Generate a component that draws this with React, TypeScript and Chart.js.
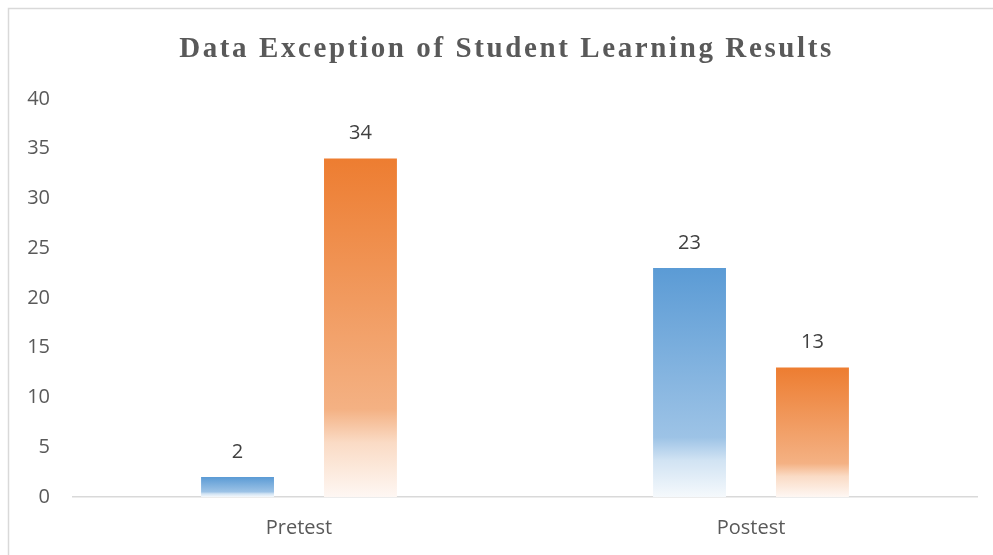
import React, { useEffect, useRef } from "react";
import { Chart, registerables } from "chart.js";

Chart.register(...registerables);

const categories = ["Pretest", "Postest"];
const seriesA = [2, 23];
const seriesB = [34, 13];
const yTicks = [0, 5, 10, 15, 20, 25, 30, 35, 40];
const titleText = "Data Exception of Student Learning Results";

const BLUE = [91, 155, 213];
const ORANGE = [237, 125, 49];
const SANS = "'Open Sans', 'Noto Sans', sans-serif";

function mix(c: number[], t: number) {
  const r = Math.round(c[0] + (255 - c[0]) * t);
  const g = Math.round(c[1] + (255 - c[1]) * t);
  const b = Math.round(c[2] + (255 - c[2]) * t);
  return `rgb(${r},${g},${b})`;
}

function gradientFor(base: number[], values: number[]) {
  return (ctx: any) => {
    const chart = ctx.chart;
    const y = chart.scales?.y;
    if (!y || ctx.dataIndex === undefined) return mix(base, 0);
    const v = values[ctx.dataIndex];
    const top = y.getPixelForValue(v);
    const bottom = y.getPixelForValue(0);
    if (!isFinite(top) || !isFinite(bottom) || top === bottom) return mix(base, 0);
    const g = chart.ctx.createLinearGradient(0, top, 0, bottom);
    g.addColorStop(0, mix(base, 0));
    g.addColorStop(0.74, mix(base, 0.4));
    g.addColorStop(0.84, mix(base, 0.72));
    g.addColorStop(1, mix(base, 0.94));
    return g;
  };
}

const framePlugin = {
  id: "frame",
  beforeDraw(chart: any) {
    const tb = chart.titleBlock;
    if (tb && !tb.__spaced) {
      const orig = tb.draw;
      tb.draw = function (...args: any[]) {
        const c = chart.ctx;
        c.save();
        c.translate(9, 0);
        (c as any).letterSpacing = "2.6px";
        orig.apply(this, args);
        c.restore();
      };
      tb.__spaced = true;
    }
    const c = chart.ctx;
    c.save();
    c.strokeStyle = "#d9d9d9";
    c.lineWidth = 1.5;
    c.beginPath();
    c.moveTo(8.5, chart.height);
    c.lineTo(8.5, 8.5);
    c.lineTo(chart.width, 8.5);
    c.stroke();
    c.restore();
  },
};

const valueLabelPlugin = {
  id: "valueLabels",
  afterDatasetsDraw(chart: any) {
    const c = chart.ctx;
    c.save();
    c.font = `20px ${SANS}`;
    c.fillStyle = "#404040";
    c.textAlign = "center";
    c.textBaseline = "middle";
    chart.data.datasets.forEach((ds: any, di: number) => {
      const meta = chart.getDatasetMeta(di);
      meta.data.forEach((el: any, i: number) => {
        c.fillText(String(ds.data[i]), el.x, el.y - 25);
      });
    });
    c.restore();
  },
};

export default function App() {
  const ref = useRef<HTMLCanvasElement | null>(null);
  useEffect(() => {
    if (!ref.current) return;
    const chart = new Chart(ref.current, {
      type: "bar",
      data: {
        labels: categories,
        datasets: [
          {
            label: "A",
            data: seriesA,
            backgroundColor: gradientFor(BLUE, seriesA),
            borderWidth: 0,
            categoryPercentage: 0.544,
            barPercentage: 0.593,
          },
          {
            label: "B",
            data: seriesB,
            backgroundColor: gradientFor(ORANGE, seriesB),
            borderWidth: 0,
            categoryPercentage: 0.544,
            barPercentage: 0.593,
          },
        ],
      },
      options: {
        animation: false,
        responsive: true,
        maintainAspectRatio: false,
        layout: { padding: { top: 0, left: 18, right: 16, bottom: 16 } },
        plugins: {
          legend: { display: false },
          tooltip: { enabled: false },
          title: {
            display: true,
            text: titleText,
            color: "#595959",
            font: { family: "'Liberation Serif', 'Times New Roman', serif", size: 29, weight: "bold", lineHeight: 1.2 },
            padding: { top: 32, bottom: 32 },
          },
        },
        scales: {
          x: {
            afterFit: (s: any) => {
              s.height = 42;
            },
            grid: { display: false, drawTicks: false },
            border: { display: true, color: "#d9d9d9", width: 1.5 },
            ticks: { color: "#595959", font: { family: SANS, size: 20 }, padding: 19 },
          },
          y: {
            min: 0,
            max: 40,
            afterBuildTicks: (s: any) => {
              s.ticks = yTicks.map((v) => ({ value: v }));
            },
            afterFit: (s: any) => {
              s.width = 55;
            },
            grid: { display: false, drawTicks: false },
            border: { display: false },
            ticks: { color: "#595959", font: { family: SANS, size: 20 }, padding: 23 },
          },
        },
      },
      plugins: [framePlugin, valueLabelPlugin],
    });
    return () => chart.destroy();
  }, []);
  return (
    <div style={{ position: "fixed", left: 0, top: 0, width: 993, height: 555, background: "#fff" }}>
      <canvas ref={ref} />
    </div>
  );
}
